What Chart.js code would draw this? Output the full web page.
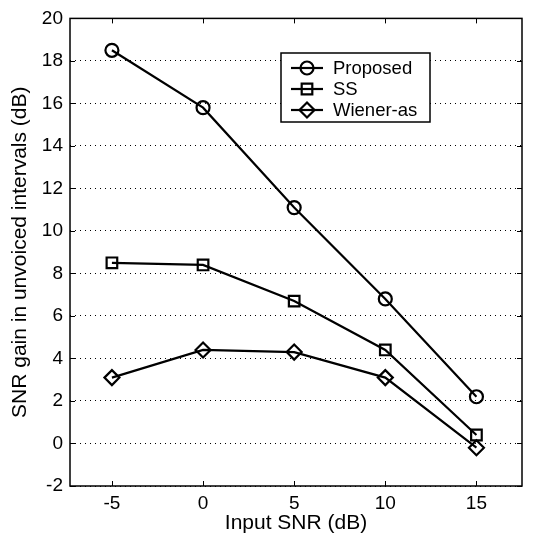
<!DOCTYPE html>
<html>
<head>
<meta charset="utf-8">
<script src="https://cdn.jsdelivr.net/npm/chart.js@4"></script>
<style>
  html, body { margin: 0; padding: 0; background: #fff; }
  #wrap { width: 543px; height: 536px; }
</style>
</head>
<body>
<div id="wrap"><canvas id="myChart" width="543" height="536"></canvas></div>
<script>
var inputSnr = [-5, 0, 5, 10, 15];
var proposed = [18.5, 15.8, 11.1, 6.8, 2.2];
var ss = [8.5, 8.4, 6.7, 4.4, 0.4];
var wienerAs = [3.1, 4.4, 4.3, 3.1, -0.2];
var seriesNames = ['Proposed', 'SS', 'Wiener-as'];
var yTicks = [-2, 0, 2, 4, 6, 8, 10, 12, 14, 16, 18, 20];

var FONT = 'Liberation Sans, Arial, Helvetica, sans-serif';

function pts(vals) {
    return inputSnr.map(function (x, i) { return {x: x, y: vals[i]}; });
}

function makeSet(label, vals, style, r) {
    return {
        label: label,
        data: pts(vals),
        borderColor: '#000',
        backgroundColor: 'rgba(0,0,0,0)',
        borderWidth: 2.2,
        pointStyle: style,
        pointRadius: r,
        pointBorderWidth: 2.2,
        pointBackgroundColor: 'rgba(0,0,0,0)',
        pointBorderColor: '#000',
        tension: 0,
        fill: false
    };
}

// box, inward ticks and legend inside the axes, matlab style
var matlabAxes = {
    id: 'matlabAxes',
    afterDraw: function (chart) {
        var ctx = chart.ctx;
        var a = chart.chartArea;
        var xs = chart.scales.x, ys = chart.scales.y;
        ctx.save();
        ctx.strokeStyle = '#000';
        ctx.lineWidth = 1.5;
        ctx.strokeRect(a.left, a.top, a.right - a.left, a.bottom - a.top);
        ctx.lineWidth = 1;
        ctx.beginPath();
        inputSnr.forEach(function (v) {
            var px = Math.round(xs.getPixelForValue(v)) + 0.5;
            ctx.moveTo(px, a.bottom); ctx.lineTo(px, a.bottom - 5);
            ctx.moveTo(px, a.top); ctx.lineTo(px, a.top + 5);
        });
        yTicks.forEach(function (v) {
            var py = Math.round(ys.getPixelForValue(v)) + 0.5;
            ctx.moveTo(a.left, py); ctx.lineTo(a.left + 5, py);
            ctx.moveTo(a.right, py); ctx.lineTo(a.right - 5, py);
        });
        ctx.stroke();

        // legend
        var lx = 281, ly = 53, lw = 149, lh = 69;
        ctx.fillStyle = '#fff';
        ctx.fillRect(lx, ly, lw, lh);
        ctx.lineWidth = 1.5;
        ctx.strokeRect(lx, ly, lw, lh);
        ctx.font = '18.5px ' + FONT;
        ctx.textBaseline = 'middle';
        ctx.textAlign = 'left';
        chart.data.datasets.forEach(function (ds, i) {
            var cy = ly + 15 + i * 21;
            ctx.lineWidth = 2.2;
            ctx.beginPath();
            ctx.moveTo(lx + 10, cy); ctx.lineTo(lx + 42, cy);
            ctx.stroke();
            ctx.fillStyle = 'rgba(0,0,0,0)';
            Chart.helpers.drawPoint(ctx, {pointStyle: ds.pointStyle, radius: ds.pointRadius, borderWidth: 2.2}, lx + 26, cy);
            ctx.fillStyle = '#000';
            ctx.fillText(ds.label, lx + 52, cy + 1);
        });
        ctx.restore();
    }
};

var ctx = document.getElementById('myChart').getContext('2d');
var myChart = new Chart(ctx, {
    type: 'line',
    data: {
        datasets: [
            makeSet(seriesNames[0], proposed, 'circle', 6.5),
            makeSet(seriesNames[1], ss, 'rect', 7.5),
            makeSet(seriesNames[2], wienerAs, 'rectRot', 7.5)
        ]
    },
    plugins: [matlabAxes],
    options: {
        responsive: false,
        animation: false,
        layout: {
            padding: {top: 15, right: 21, left: 0, bottom: 0}
        },
        plugins: {
            legend: {display: false},
            tooltip: {enabled: false}
        },
        scales: {
            x: {
                type: 'linear',
                min: -7.3,
                max: 17.5,
                afterBuildTicks: function (scale) {
                    scale.ticks = inputSnr.map(function (v) { return {value: v}; });
                },
                afterFit: function (scale) { scale.height = 50; },
                grid: {display: false, drawTicks: false},
                border: {display: false},
                ticks: {
                    color: '#000',
                    padding: 6,
                    font: {family: FONT, size: 19}
                },
                title: {
                    display: true,
                    text: 'Input SNR (dB)',
                    color: '#000',
                    padding: {top: 0, bottom: 0},
                    font: {family: FONT, size: 21}
                }
            },
            y: {
                min: -2,
                max: 20,
                afterBuildTicks: function (scale) {
                    scale.ticks = yTicks.map(function (v) { return {value: v}; });
                },
                afterFit: function (scale) { scale.width = 70; },
                grid: {
                    color: '#000',
                    lineWidth: 1,
                    drawTicks: false
                },
                border: {display: false, dash: [1, 4]},
                ticks: {
                    color: '#000',
                    padding: 7,
                    font: {family: FONT, size: 19}
                },
                title: {
                    display: true,
                    text: 'SNR gain in unvoiced intervals (dB)',
                    color: '#000',
                    padding: {top: 8, bottom: 0},
                    font: {family: FONT, size: 21}
                }
            }
        }
    }
});
</script>
</body>
</html>
